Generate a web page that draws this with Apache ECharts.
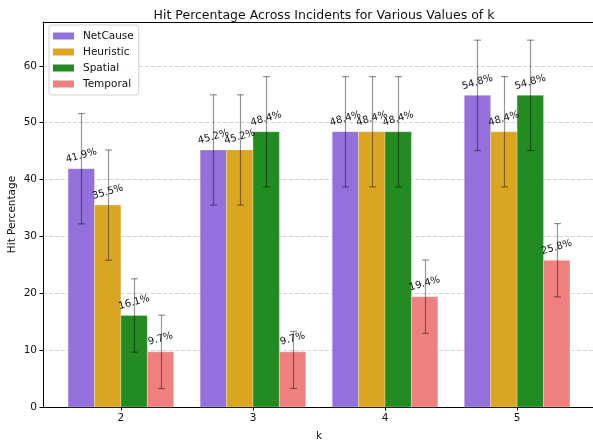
<!DOCTYPE html>
<html>
<head>
<meta charset="utf-8">
<script src="https://cdn.jsdelivr.net/npm/echarts@6/dist/echarts.min.js"></script>
<style>html,body{margin:0;padding:0;background:#fff}#c{width:593px;height:443px}</style>
</head>
<body>
<div id="c"></div>
<script>
const kLabels = ['2', '3', '4', '5'];
const methods = ['NetCause', 'Heuristic', 'Spatial', 'Temporal'];
const netCause = [41.9, 45.2, 48.4, 54.8];
const heuristic = [35.5, 45.2, 48.4, 48.4];
const spatial = [16.1, 48.4, 48.4, 54.8];
const temporal = [9.7, 9.7, 19.4, 25.8];
const netCauseErrLow = [9.7, 9.7, 9.7, 9.7];
const netCauseErrHigh = [9.7, 9.7, 9.7, 9.7];
const heuristicErrLow = [9.7, 9.7, 9.7, 9.7];
const heuristicErrHigh = [9.7, 9.7, 9.7, 9.7];
const spatialErrLow = [6.45, 9.7, 9.7, 9.7];
const spatialErrHigh = [6.45, 9.7, 9.7, 9.7];
const temporalErrLow = [6.45, 6.45, 6.45, 6.45];
const temporalErrHigh = [6.45, 3.6, 6.45, 6.45];
const yTicks = [0, 10, 20, 30, 40, 50, 60];

const colors = ['#9370DB', '#DAA520', '#228B22', '#F08080'];
const values = [netCause, heuristic, spatial, temporal];
const errLow = [netCauseErrLow, heuristicErrLow, spatialErrLow, temporalErrLow];
const errHigh = [netCauseErrHigh, heuristicErrHigh, spatialErrHigh, temporalErrHigh];
const BW = 0.2;
const FONT = '"DejaVu Sans", sans-serif';
const FS = 10.5;

function barRender(mi) {
  return function (params, api) {
    const xi = api.value(0), v = api.value(1), lo = api.value(2), hi = api.value(3);
    const cx = xi + (mi - 1.5) * BW;
    const p0 = api.coord([cx - BW / 2, 0]);
    const p1 = api.coord([cx + BW / 2, v]);
    const eb = api.coord([cx, v - lo]);
    const et = api.coord([cx, v + hi]);
    const ex = Math.round(eb[0]) + 0.5;
    const cap = 3.5;
    const es = { stroke: 'rgba(0,0,0,0.42)', lineWidth: 1.2 };
    return {
      type: 'group',
      children: [
        { type: 'rect', shape: { x: p0[0], y: p1[1], width: p1[0] - p0[0], height: p0[1] - p1[1] },
          style: { fill: colors[mi], stroke: 'rgba(255,255,255,0.35)', lineWidth: 0.8 } },
        { type: 'line', shape: { x1: ex, y1: eb[1], x2: ex, y2: et[1] }, style: es },
        { type: 'line', shape: { x1: ex - cap, y1: eb[1], x2: ex + cap, y2: eb[1] }, style: es },
        { type: 'line', shape: { x1: ex - cap, y1: et[1], x2: ex + cap, y2: et[1] }, style: es }
      ]
    };
  };
}

function labelRender(params, api) {
  const xi = api.value(0), v = api.value(1), mi = api.value(2);
  const cx = xi + (mi - 1.5) * BW;
  const p = api.coord([cx, v]);
  return {
    type: 'text', x: p[0], y: p[1] - 13, rotation: 16 * Math.PI / 180,
    style: { text: v.toFixed(1) + '%', fill: '#111', font: '10px ' + FONT, align: 'center', verticalAlign: 'middle' }
  };
}

const series = methods.map((m, mi) => ({
  name: m, type: 'custom', renderItem: barRender(mi),
  itemStyle: { color: colors[mi] },
  encode: { x: 0, y: 1 }, z: 2,
  data: values[mi].map((v, i) => [i, v, errLow[mi][i], errHigh[mi][i]])
}));
const labelData = [];
values.forEach((arr, mi) => arr.forEach((v, i) => labelData.push([i, v, mi])));
series.push({ name: 'labels', type: 'custom', renderItem: labelRender, encode: { x: 0, y: 1 }, z: 5, data: labelData, silent: true });

const chart = echarts.init(document.getElementById('c'), null, { renderer: 'canvas' });
chart.setOption({
  animation: false,
  title: { text: 'Hit Percentage Across Incidents for Various Values of k', left: 319, top: 4, textAlign: 'center',
    textStyle: { fontFamily: FONT, fontSize: 12.5, fontWeight: 'normal', color: '#111' } },
  legend: {
    data: methods, orient: 'vertical', left: 49, top: 25, icon: 'rect', itemWidth: 21, itemHeight: 7, itemGap: 4,
    padding: [5, 5, 5, 4], backgroundColor: 'rgba(255,255,255,0.85)', borderColor: '#d0d0d0', borderWidth: 1, borderRadius: 3,
    textStyle: { fontFamily: FONT, fontSize: FS, lineHeight: 12, color: '#111', padding: [0, 0, 0, 4] }
  },
  grid: { left: 43, right: -2, top: 22, bottom: 36, show: false, outerBoundsMode: 'none', containLabel: false },
  xAxis: [{
    type: 'value', min: -0.59, max: 3.59, position: 'bottom',
    name: 'k', nameLocation: 'middle', nameGap: 24, nameMoveOverlap: false,
    nameTextStyle: { fontFamily: FONT, fontSize: FS, color: '#111' },
    axisLine: { onZero: false, lineStyle: { color: '#000', width: 1 } },
    axisTick: { customValues: [0, 1, 2, 3], length: 3.5, lineStyle: { color: '#000' } },
    axisLabel: { customValues: [0, 1, 2, 3], formatter: v => kLabels[Math.round(v)], fontFamily: FONT, fontSize: FS, color: '#111', margin: 6 },
    splitLine: { show: false }
  }, {
    type: 'value', min: -0.59, max: 3.59, position: 'top',
    axisLine: { onZero: false, lineStyle: { color: '#000', width: 1 } },
    axisTick: { show: false }, axisLabel: { show: false }, splitLine: { show: false }
  }],
  yAxis: {
    type: 'value', min: 0, max: 67.7,
    name: 'Hit Percentage', nameLocation: 'middle', nameGap: 25, nameMoveOverlap: false,
    nameTextStyle: { fontFamily: FONT, fontSize: FS, color: '#111' },
    axisLine: { show: true, onZero: false, lineStyle: { color: '#000', width: 1 } },
    axisTick: { show: true, customValues: yTicks, length: 3.5, lineStyle: { color: '#000' } },
    axisLabel: { customValues: yTicks, fontFamily: FONT, fontSize: FS, color: '#111', margin: 6 },
    splitLine: { show: true, lineStyle: { color: '#c8c8c8', type: [4, 2], width: 0.8 } },
    interval: 10
  },
  series: series
});
</script>
</body>
</html>
